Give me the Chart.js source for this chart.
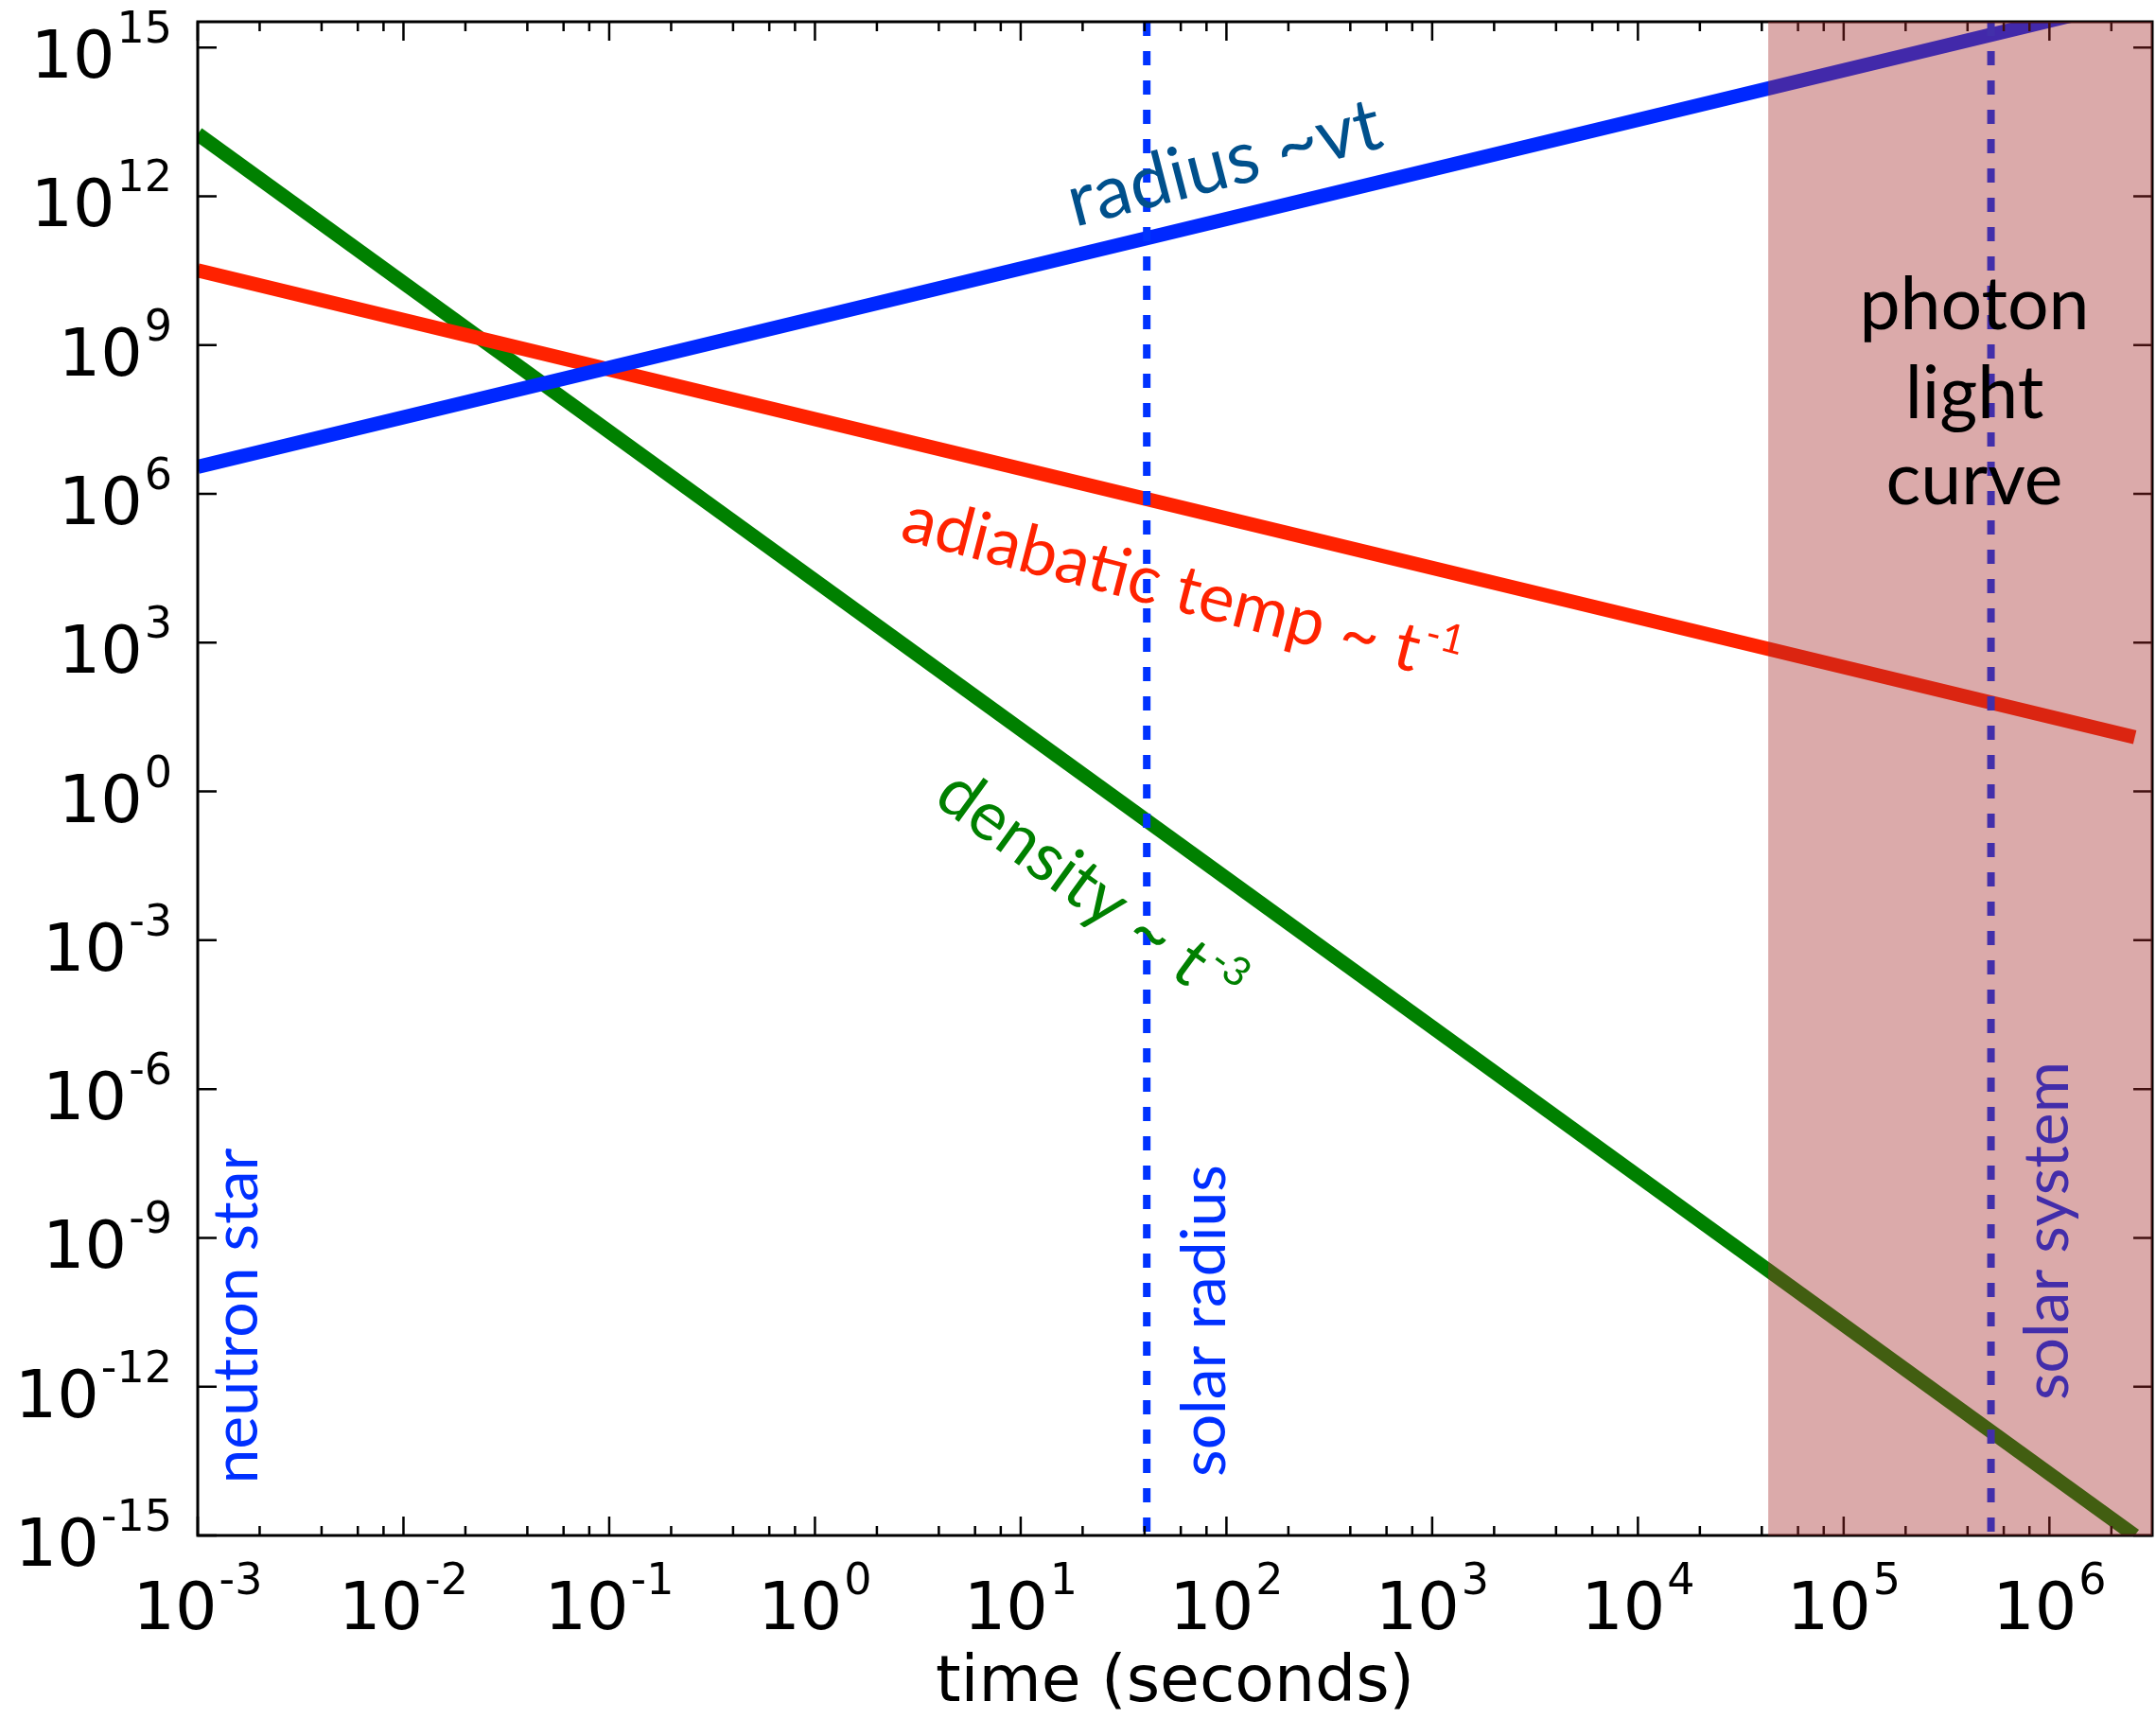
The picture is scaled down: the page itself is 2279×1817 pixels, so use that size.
<!DOCTYPE html>
<html>
<head>
<meta charset="utf-8">
<script src="https://cdn.jsdelivr.net/npm/chart.js@4.4.1/dist/chart.umd.min.js"></script>
<style>
html,body{margin:0;padding:0;background:#ffffff;}
canvas{display:block;}
</style>
</head>
<body>
<canvas id="c" width="2279" height="1817"></canvas>
<script>
// ---- data ----
const times = [1e-3, 2.6e6];                 // seconds (start, end of the curves)
const radiusValues = [3.5e6, 9.0e15];        // radius ~ vt
const temperatureValues = [3.2e10, 12.4];    // adiabatic temp ~ t^-1
const densityValues = [1.8e13, 1.0e-15];     // density ~ t^-3
const markerTimes = [41, 5.2e5];             // solar radius, solar system
const markerLabels = ['solar radius', 'solar system'];
const photonWindow = [4.3e4, 3.16e6];        // shaded "photon light curve" span
const xRange = [1e-3, 3.16e6];
const yRange = [1e-15, 3.3e15];
const xTickExponents = [-3, -2, -1, 0, 1, 2, 3, 4, 5, 6];
const yTickExponents = [-15, -12, -9, -6, -3, 0, 3, 6, 9, 12, 15];
const xMinorSubs = [2, 4, 6, 8];
const seriesLabels = ['radius ~vt', 'adiabatic temp ~ t', 'density ~ t'];
const seriesExponents = ['', '-1', '-3'];
const photonLines = ['photon', 'light', 'curve'];
const xTitle = 'time (seconds)';
const leftLabel = 'neutron star';

// ---- helpers ----
const pts = (vals) => times.map((t, i) => ({x: t, y: vals[i]}));
const vline = (t) => [{x: t, y: yRange[1]}, {x: t, y: yRange[0]}];

const LABEL_FONT = 'Lato, "Open Sans", sans-serif';
const TICK_FONT = '"DejaVu Sans", sans-serif';

function sciLabel(ctx, exp, x, y, align) {
  const base = '10', sup = String(exp);
  ctx.font = '70px ' + TICK_FONT;
  const wb = ctx.measureText(base).width;
  ctx.font = '46px ' + TICK_FONT;
  const ws = ctx.measureText(sup).width;
  const total = wb + ws + 2;
  const x0 = align === 'center' ? x - total / 2 : x - total;
  ctx.textAlign = 'left';
  ctx.textBaseline = 'alphabetic';
  ctx.font = '70px ' + TICK_FONT;
  ctx.fillText(base, x0, y);
  ctx.font = '46px ' + TICK_FONT;
  ctx.fillText(sup, x0 + wb + 2, y - 37);
}

function richText(ctx, x, y, angleDeg, text, sup, color, size) {
  ctx.save();
  ctx.translate(x, y);
  ctx.rotate(angleDeg * Math.PI / 180);
  ctx.fillStyle = color;
  ctx.textAlign = 'left';
  ctx.textBaseline = 'alphabetic';
  ctx.font = size + 'px ' + LABEL_FONT;
  ctx.fillText(text, 0, 0);
  const w = ctx.measureText(text).width;
  if (sup) {
    ctx.font = Math.round(size * 0.6) + 'px ' + LABEL_FONT;
    ctx.fillText(sup, w + 3, -size * 0.42);
  }
  ctx.restore();
}

function vertText(ctx, text, x, yc, color, size) {
  ctx.save();
  ctx.translate(x, yc);
  ctx.rotate(-Math.PI / 2);
  ctx.fillStyle = color;
  ctx.textAlign = 'center';
  ctx.textBaseline = 'alphabetic';
  ctx.font = size + 'px ' + LABEL_FONT;
  ctx.fillText(text, 0, 0);
  ctx.restore();
}

const decor = {
  id: 'decor',
  afterDatasetsDraw(chart) {
    const ctx = chart.ctx;
    const {left, right, top, bottom} = chart.chartArea;
    const xs = chart.scales.x, ys = chart.scales.y;
    ctx.save();
    // tick marks (inside, all four sides)
    ctx.strokeStyle = '#000';
    ctx.lineWidth = 2.5;
    ctx.beginPath();
    xTickExponents.forEach(e => {
      const px = xs.getPixelForValue(Math.pow(10, e));
      ctx.moveTo(px, bottom); ctx.lineTo(px, bottom - 20);
      ctx.moveTo(px, top); ctx.lineTo(px, top + 20);
    });
    for (let e = -4; e <= 7; e++) {
      xMinorSubs.forEach(s => {
        const v = s * Math.pow(10, e);
        if (v > xRange[0] && v < xRange[1]) {
          const px = xs.getPixelForValue(v);
          ctx.moveTo(px, bottom); ctx.lineTo(px, bottom - 10);
          ctx.moveTo(px, top); ctx.lineTo(px, top + 10);
        }
      });
    }
    yTickExponents.forEach(e => {
      const py = ys.getPixelForValue(Math.pow(10, e));
      ctx.moveTo(left, py); ctx.lineTo(left + 20, py);
      ctx.moveTo(right, py); ctx.lineTo(right - 20, py);
    });
    ctx.stroke();
    ctx.lineWidth = 3;
    ctx.strokeRect(left, top, right - left, bottom - top);

    // marker label inside the shaded window (drawn beneath the shade)
    vertText(ctx, markerLabels[1], xs.getPixelForValue(markerTimes[1]) + 81, 1301, '#0030ff', 66);

    // shaded photon light curve window
    const sx0 = xs.getPixelForValue(photonWindow[0]);
    const sx1 = Math.min(right, xs.getPixelForValue(photonWindow[1]));
    ctx.fillStyle = 'rgba(165,42,42,0.4)';
    ctx.fillRect(sx0, top, sx1 - sx0, bottom - top);

    // other labels
    vertText(ctx, leftLabel, left + 63, 1391, '#0030ff', 66);
    vertText(ctx, markerLabels[0], xs.getPixelForValue(markerTimes[0]) + 83, 1396, '#0030ff', 66);

    richText(ctx, 1136, 240, -14.5, seriesLabels[0], seriesExponents[0], '#00508c', 78);
    richText(ctx, 950, 570, 14.5, seriesLabels[1], seriesExponents[1], '#ff2200', 71);
    richText(ctx, 985, 848, 36, seriesLabels[2], seriesExponents[2], '#008000', 72);

    ctx.fillStyle = '#000';
    ctx.textAlign = 'center';
    ctx.textBaseline = 'alphabetic';
    ctx.font = '77px ' + LABEL_FONT;
    [348, 442, 533].forEach((yy, i) => ctx.fillText(photonLines[i], 2087, yy));

    // tick labels
    ctx.fillStyle = '#000';
    xTickExponents.forEach(e => {
      sciLabel(ctx, e, xs.getPixelForValue(Math.pow(10, e)), bottom + 99, 'center');
    });
    yTickExponents.forEach(e => {
      sciLabel(ctx, e, 182, ys.getPixelForValue(Math.pow(10, e)) + 32, 'right');
    });

    // axis title
    ctx.font = '68px ' + TICK_FONT;
    ctx.textAlign = 'center';
    ctx.fillText(xTitle, (left + right) / 2, 1798);
    ctx.restore();
  }
};

const common = {pointRadius: 0, fill: false, tension: 0, clip: 0, borderCapStyle: 'butt'};

new Chart(document.getElementById('c').getContext('2d'), {
  type: 'line',
  data: {
    datasets: [
      Object.assign({label: markerLabels[0], data: vline(markerTimes[0]), borderColor: '#0033ff', borderWidth: 8, borderDash: [15, 16], order: 0}, common),
      Object.assign({label: markerLabels[1], data: vline(markerTimes[1]), borderColor: '#0033ff', borderWidth: 8, borderDash: [15, 16], order: 0}, common),
      Object.assign({label: 'radius', data: pts(radiusValues), borderColor: '#0028ff', borderWidth: 15, order: 1}, common),
      Object.assign({label: 'temperature', data: pts(temperatureValues), borderColor: '#ff2200', borderWidth: 15, order: 2}, common),
      Object.assign({label: 'density', data: pts(densityValues), borderColor: '#008000', borderWidth: 15, order: 3}, common)
    ]
  },
  options: {
    responsive: false,
    animation: false,
    events: [],
    layout: {padding: {left: 0, right: 4, top: 23, bottom: 0}},
    plugins: {legend: {display: false}, title: {display: false}, tooltip: {enabled: false}},
    scales: {
      x: {
        type: 'logarithmic', min: xRange[0], max: xRange[1],
        grid: {display: false}, border: {display: false}, ticks: {display: false},
        afterFit(s) { s.height = 194; }
      },
      y: {
        type: 'logarithmic', min: yRange[0], max: yRange[1],
        grid: {display: false}, border: {display: false}, ticks: {display: false},
        afterFit(s) { s.width = 209; }
      }
    }
  },
  plugins: [decor]
});
</script>
</body>
</html>
